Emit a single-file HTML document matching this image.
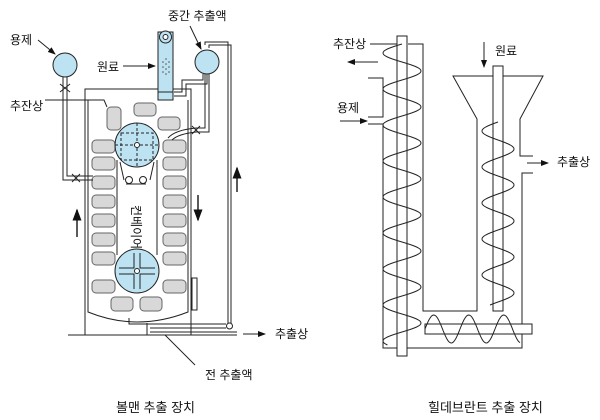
<!DOCTYPE html>
<html><head><meta charset="utf-8"><style>
html,body{margin:0;padding:0;background:#fff;width:600px;height:420px;overflow:hidden}
svg{display:block}
text{font-family:"Liberation Sans","Noto Sans CJK KR",sans-serif;font-size:12px;fill:#111}
</style></head><body>
<svg id="s" width="600" height="420" viewBox="0 0 600 420" xmlns="http://www.w3.org/2000/svg">
<defs><marker id="a" markerWidth="8" markerHeight="6" refX="7" refY="3" orient="auto"><path d="M0,0 L8,3 L0,6z" fill="#111"/></marker></defs>
<g stroke="#222" stroke-width="1" fill="none">
<!-- LEFT: Bollman -->
<line x1="68" y1="335" x2="237" y2="335"/>
<rect x="85" y="89" width="106" height="246"/>
<path d="M88,100 L88,312 Q137,332 188,312 L188,100"/>
<line x1="147" y1="323" x2="147" y2="335"/>
<rect x="192" y="278" width="5" height="32"/>
<!-- slats -->
<g fill="#d8d8d8" stroke="#666">
<rect x="107" y="107" width="14" height="23" rx="4"/>
<rect x="134" y="103" width="22" height="13" rx="4"/>
<rect x="158" y="117" width="22" height="13" rx="4"/>
<rect x="92" y="140" width="23" height="13" rx="4"/><rect x="92" y="157" width="23" height="13" rx="4"/><rect x="92" y="176" width="23" height="13" rx="4"/><rect x="92" y="195" width="23" height="13" rx="4"/><rect x="92" y="214" width="23" height="13" rx="4"/><rect x="92" y="233" width="23" height="13" rx="4"/><rect x="92" y="252" width="23" height="13" rx="4"/><rect x="92" y="280" width="23" height="13" rx="4"/>
<rect x="163" y="140" width="23" height="13" rx="4"/><rect x="163" y="157" width="23" height="13" rx="4"/><rect x="163" y="176" width="23" height="13" rx="4"/><rect x="163" y="195" width="23" height="13" rx="4"/><rect x="163" y="214" width="23" height="13" rx="4"/><rect x="163" y="233" width="23" height="13" rx="4"/><rect x="163" y="252" width="23" height="13" rx="4"/><rect x="163" y="280" width="23" height="13" rx="4"/>
<rect x="111" y="297" width="22" height="14" rx="4"/><rect x="140" y="297" width="22" height="14" rx="4"/>
</g>
<path d="M117,160 L117,255 M157,160 L157,255"/>
<path d="M120,162 L124,180 M154,162 L150,180 M126,184 L146,184"/>
<circle cx="129" cy="180" r="3.5"/><circle cx="143" cy="180" r="3.5"/>
<!-- circles -->
<circle cx="137" cy="145" r="22" fill="#bde3f3"/>
<path d="M115,145 H159 M137,123 V167 M121,133 H153 V160 H121z" stroke-dasharray="3,2"/>
<circle cx="137" cy="145" r="2.5" fill="#fff"/>
<circle cx="137" cy="271" r="22" fill="#bde3f3"/>
<path d="M134,253 V268 H119 M140,253 V268 H155 M134,289 V274 H119 M140,289 V274 H155"/>
<circle cx="137" cy="271" r="2.5" fill="#fff"/>
<!-- feed tube -->
<rect x="158" y="32" width="15" height="68" fill="#bde3f3"/>
<line x1="158" y1="92" x2="173" y2="92"/>
<circle cx="165.5" cy="37" r="6" fill="#bde3f3"/><circle cx="165.5" cy="37" r="2.5" fill="#fff"/>
<g fill="#555" stroke="none"><circle cx="163" cy="62" r=".8"/><circle cx="166" cy="64" r=".8"/><circle cx="169" cy="62" r=".8"/><circle cx="163" cy="67" r=".8"/><circle cx="166" cy="69" r=".8"/><circle cx="169" cy="67" r=".8"/><circle cx="163" cy="72" r=".8"/><circle cx="166" cy="74" r=".8"/><circle cx="169" cy="72" r=".8"/><circle cx="166" cy="59" r=".8"/></g>
<!-- balls & pipes -->
<circle cx="65" cy="65" r="12" fill="#bde3f3"/>
<circle cx="207" cy="62" r="12" fill="#bde3f3"/>
<path d="M63,77 V180 H93 M67,77 V176 H93" />
<path d="M60,84 L70,92 M70,84 L60,92 M72,174 L80,182 M72,182 L80,174"/>
<path d="M174,92 H182 V80 H203 V74 M174,96 H186 V84 H207 V74"/>
<path d="M205,45 V42 H228 V325 M209,48 V45 H231 V325"/>
<path d="M205,74 V128 H196 M209,74 V132 H196 M196,128 Q175,130 168,138 M196,132 Q178,134 172,140"/>
<path d="M192,126 L200,134 M192,134 L200,126"/>
<circle cx="229.5" cy="326" r="3" fill="#fff"/>
<path d="M226,324 H129 V318 M226,328 H150 M150,332 H237"/>
<!-- labels lines -->
<line x1="38" y1="40" x2="55" y2="54" marker-end="url(#a)"/>
<line x1="123" y1="66" x2="155" y2="66" marker-end="url(#a)"/>
<path d="M45,100 H104 L107,107"/>
<line x1="190" y1="26" x2="201" y2="49" marker-end="url(#a)"/>
<line x1="195" y1="365" x2="165" y2="335"/>
<line x1="243" y1="334" x2="265" y2="334" marker-end="url(#a)"/>
<line x1="237" y1="192" x2="237" y2="168" marker-end="url(#a)" stroke-width="1.5"/>
<line x1="198" y1="195" x2="198" y2="220" marker-end="url(#a)" stroke-width="1.5"/>
<line x1="77" y1="237" x2="77" y2="210" marker-end="url(#a)" stroke-width="1.5"/>
<!-- RIGHT: Hildebrandt -->
<path d="M368,78 H383 V117 H368 M368,124 H383 V348 H522 V173 H533 M533,156 H520 V119 L543,76 H453 L477,119 V311 H423 V44 H408"/>
<rect x="397" y="36" width="10" height="320" fill="#fff"/>
<rect x="493" y="66" width="10" height="245" fill="#fff"/>
<rect x="425" y="324" width="107" height="10" fill="#fff"/>
<path id="h1"/><path id="h2"/><path id="h3"/>
<line x1="370" y1="44" x2="397" y2="44"/>
<line x1="378" y1="62" x2="348" y2="62" marker-end="url(#a)"/>
<line x1="340" y1="121" x2="367" y2="121" marker-end="url(#a)"/>
<line x1="484" y1="42" x2="484" y2="67" marker-end="url(#a)"/>
<line x1="527" y1="163" x2="548" y2="163" marker-end="url(#a)"/>
</g>
<text x="10" y="44">용제</text>
<text x="97" y="71">원료</text>
<text x="10" y="110">추잔상</text>
<text x="168" y="20">중간 추출액</text>
<text x="275" y="338">추출상</text>
<text x="205" y="379">전 추출액</text>
<text transform="translate(132,205) rotate(90)" style="font-size:12px">컨베이어</text>
<text x="116" y="412" style="font-size:13px">볼맨 추출 장치</text>
<text x="333" y="48">추잔상</text>
<text x="337" y="112">용제</text>
<text x="495" y="55">원료</text>
<text x="557" y="166">추출상</text>
<text x="428" y="412" style="font-size:13px">힐데브란트 추출 장치</text>
</svg>
<script>
function vh(cx,a,y0,y1,p){var d="";for(var y=y0;y<=y1;y+=1){var x=cx+a*Math.sin((y-y0)/p*2*Math.PI);d+=(y==y0?"M":"L")+x.toFixed(1)+","+y;}return d;}
function hh(cy,a,x0,x1,p){var d="";for(var x=x0;x<=x1;x+=1){var y=cy-a*Math.sin((x-x0)/p*2*Math.PI);d+=(x==x0?"M":"L")+x+","+y.toFixed(1);}return d;}
document.getElementById('h1').setAttribute('d',vh(402,-19,44,345,36));
document.getElementById('h2').setAttribute('d',vh(498,-16,122,305,36));
document.getElementById('h3').setAttribute('d',hh(329,14,425,520,35));
</script>
</body></html>
